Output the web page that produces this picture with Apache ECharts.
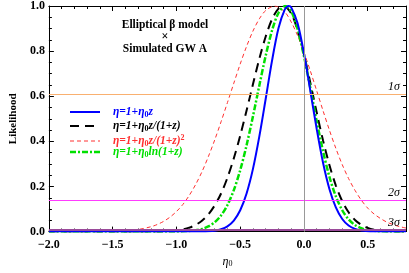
<!DOCTYPE html>
<html>
<head>
<meta charset="utf-8">
<script src="https://cdn.jsdelivr.net/npm/echarts@6/dist/echarts.min.js"></script>
<style>html,body{margin:0;padding:0;background:#fff;}#c{width:409px;height:273px;}</style>
</head>
<body>
<div id="c"></div>
<script>
var blueX = [-2.0, -0.9, -0.8, -0.75, -0.7, -0.65, -0.6, -0.55, -0.5, -0.45, -0.4, -0.35, -0.3, -0.25, -0.2, -0.15, -0.12, -0.1, -0.05, 0, 0.05, 0.1, 0.15, 0.2, 0.25, 0.3, 0.35, 0.4, 0.45, 0.5, 0.55, 0.6, 0.8];
var blueY = [0, 0.0000, 0.0005, 0.0015, 0.0041, 0.0102, 0.0233, 0.0489, 0.0947, 0.169, 0.278, 0.422, 0.589, 0.759, 0.901, 0.985, 1.0, 0.994, 0.923, 0.79, 0.624, 0.454, 0.304, 0.188, 0.107, 0.056, 0.027, 0.012, 0.005, 0.0019, 0.0006, 0.0002, 0];

var blackX = [-2.0, -1.2, -1.1, -1.0, -0.95, -0.9, -0.85, -0.8, -0.75, -0.7, -0.65, -0.6, -0.55, -0.5, -0.45, -0.4, -0.35, -0.3, -0.25, -0.2, -0.16, -0.1, -0.05, 0, 0.05, 0.1, 0.15, 0.2, 0.25, 0.3, 0.35, 0.4, 0.45, 0.5, 0.55, 0.6, 0.65, 0.7, 0.8];
var blackY = [0, 0.0003, 0.0014, 0.0054, 0.0099, 0.0174, 0.0296, 0.0483, 0.0762, 0.116, 0.169, 0.239, 0.325, 0.425, 0.537, 0.653, 0.766, 0.865, 0.942, 0.988, 1.0, 0.967, 0.892, 0.785, 0.659, 0.528, 0.403, 0.294, 0.204, 0.135, 0.0856, 0.0516, 0.0297, 0.0163, 0.0085, 0.0043, 0.002, 0.0009, 0.0002];

var greenX = [-2.0, -1.0, -0.95, -0.9, -0.85, -0.8, -0.75, -0.7, -0.65, -0.6, -0.55, -0.5, -0.45, -0.4, -0.35, -0.3, -0.25, -0.2, -0.145, -0.1, -0.05, 0, 0.05, 0.1, 0.15, 0.2, 0.25, 0.3, 0.35, 0.4, 0.45, 0.5, 0.55, 0.6, 0.7, 0.8];
var greenY = [0, 0.0005, 0.0012, 0.0028, 0.0059, 0.0119, 0.0228, 0.0415, 0.0717, 0.118, 0.184, 0.272, 0.383, 0.511, 0.648, 0.780, 0.892, 0.969, 1.0, 0.976, 0.898, 0.778, 0.636, 0.489, 0.355, 0.242, 0.156, 0.0947, 0.054, 0.029, 0.0148, 0.0071, 0.0032, 0.0013, 0.0002, 0];

var redX = [-2.0, -1.6, -1.5, -1.4, -1.3, -1.2, -1.15, -1.1, -1.05, -1.0, -0.95, -0.9, -0.85, -0.8, -0.75, -0.7, -0.65, -0.6, -0.55, -0.5, -0.45, -0.4, -0.35, -0.3, -0.23, -0.15, -0.1, -0.05, 0, 0.05, 0.1, 0.15, 0.2, 0.25, 0.3, 0.35, 0.4, 0.45, 0.5, 0.55, 0.6, 0.65, 0.7, 0.75, 0.8];
var redY = [0, 0.0005, 0.0014, 0.0037, 0.0094, 0.0215, 0.0316, 0.0455, 0.0643, 0.0889, 0.120, 0.160, 0.208, 0.265, 0.332, 0.406, 0.487, 0.572, 0.658, 0.743, 0.821, 0.889, 0.943, 0.980, 1.0, 0.973, 0.929, 0.869, 0.795, 0.712, 0.624, 0.535, 0.449, 0.369, 0.297, 0.235, 0.183, 0.139, 0.104, 0.078, 0.058, 0.042, 0.031, 0.022, 0.016];

var sigmaLevels = [0.6065, 0.1353, 0.0111];
var sigmaLabels = ['1σ', '2σ', '3σ'];
var xTicks = [-2.0, -1.5, -1.0, -0.5, 0.0, 0.5];
var yTicks = [0.0, 0.2, 0.4, 0.6, 0.8, 1.0];

function pairs(xs, ys) { return xs.map(function (x, i) { return [x, ys[i]]; }); }
function fmt(v) { return v.toFixed(1).replace('-', '\u2212'); }

var serif = 'Liberation Serif, Times New Roman, serif';
var chart = echarts.init(document.getElementById('c'), null, { renderer: 'canvas' });

var tickStyle = { show: true, inside: true, length: 5, lineStyle: { color: '#000', width: 1 } };
var minorStyle = { show: true, splitNumber: 5, length: 3, lineStyle: { color: '#000', width: 1 } };
var minorY = { show: true, splitNumber: 4, length: 3, lineStyle: { color: '#000', width: 1 } };
var axisLine = { show: true, onZero: false, lineStyle: { color: '#000', width: 1 } };
var labelStyle = { fontFamily: serif, fontWeight: 'bold', fontSize: 12, color: '#000' };

var sigmaColors = ['#f9b070', '#ff3cff', '#9a4a9a'];
var sigmaWidths = [1, 1, 2];

var refSeries = sigmaLevels.map(function (v, i) {
  return {
    type: 'line', name: 'sigma' + i, data: [], symbol: 'none',
    markLine: {
      symbol: 'none', silent: true, animation: false,
      lineStyle: { color: sigmaColors[i], width: sigmaWidths[i], type: 'solid' },
      label: { show: true, position: 'insideEndTop', formatter: sigmaLabels[i], fontFamily: serif, fontStyle: 'italic', fontSize: 12, color: '#000', distance: [6, 1] },
      data: [{ yAxis: v }]
    }
  };
});
refSeries.push({
  type: 'line', name: 'zero', data: [], symbol: 'none',
  markLine: {
    symbol: 'none', silent: true, animation: false,
    lineStyle: { color: '#999', width: 1, type: 'solid' }, label: { show: false },
    data: [{ xAxis: 0 }]
  }
});

var option = {
  animation: false,
  grid: { left: 34, right: 1, top: 6, bottom: 36 },
  xAxis: [{
    type: 'value', min: -2.0, max: 0.8, interval: 0.5,
    axisLine: axisLine, axisTick: tickStyle, minorTick: minorStyle,
    splitLine: { show: false },
    axisLabel: Object.assign({ formatter: function (v) { return Math.abs(v - 0.8) < 1e-9 ? '' : fmt(v); }, margin: 7 }, labelStyle),
    name: '{i|η}{s|0}', nameLocation: 'middle', nameGap: 22,
    nameTextStyle: { rich: { i: { fontFamily: serif, fontStyle: 'italic', fontSize: 12, color: '#000' }, s: { fontFamily: serif, fontSize: 8, color: '#000', padding: [5, 0, 0, 0] } } }
  }, {
    type: 'value', min: -2.0, max: 0.8, interval: 0.5, position: 'top',
    axisLine: axisLine, axisTick: tickStyle, minorTick: minorStyle,
    splitLine: { show: false }, axisLabel: { show: false }
  }],
  yAxis: [{
    type: 'value', min: 0, max: 1, interval: 0.2,
    axisLine: axisLine, axisTick: tickStyle, minorTick: minorY,
    splitLine: { show: false },
    axisLabel: Object.assign({ formatter: fmt, margin: 4 }, labelStyle),
    name: 'Likelihood', nameLocation: 'middle', nameGap: 24, nameRotate: 90,
    nameTextStyle: { fontFamily: serif, fontWeight: 'bold', fontSize: 11, color: '#000' }
  }, {
    type: 'value', min: 0, max: 1, interval: 0.2, position: 'right',
    axisLine: axisLine, axisTick: tickStyle, minorTick: minorY,
    splitLine: { show: false }, axisLabel: { show: false }
  }],
  series: refSeries.concat([
    { type: 'line', name: 'red', data: pairs(redX, redY), smooth: 0.3, symbol: 'none', lineStyle: { color: '#ff3030', width: 1, type: [4, 3] } },
    { type: 'line', name: 'black', data: pairs(blackX, blackY), smooth: 0.3, symbol: 'none', lineStyle: { color: '#000', width: 2, type: [9, 6] } },
    { type: 'line', name: 'green', data: pairs(greenX, greenY), smooth: 0.3, symbol: 'none', lineStyle: { color: '#00e000', width: 2.5, type: [6, 2, 2, 2] } },
    { type: 'line', name: 'blue', data: pairs(blueX, blueY), smooth: 0.3, symbol: 'none', lineStyle: { color: '#0000ff', width: 2, type: 'solid' } }
  ]),
  graphic: (function () {
    var items = [];
    var ly = [112, 126, 141, 152];
    var cols = ['#0000ff', '#000000', '#ff3030', '#00e000'];
    var dashes = ['solid', [9, 6], [4, 3], [6, 2, 2, 2]];
    var widths = [2, 2, 1, 2.5];
    var texts = ['{a|η=1+η}{s|0}{a|z}', '{a|η=1+η}{s|0}{a|z/(1+z)}', '{a|η=1+η}{s|0}{a|z/(1+z)}{p|2}', '{a|η=1+η}{s|0}{a|ln(1+z)}'];
    for (var i = 0; i < 4; i++) {
      items.push({ type: 'line', shape: { x1: 70, y1: ly[i], x2: 100, y2: ly[i] }, style: { stroke: cols[i], lineWidth: widths[i], lineDash: dashes[i] === 'solid' ? null : dashes[i] } });
      items.push({
        type: 'text', x: 113, y: ly[i], style: {
          text: texts[i], verticalAlign: 'middle', fill: cols[i],
          rich: {
            a: { fontFamily: serif, fontStyle: 'italic', fontWeight: 'bold', fontSize: 11.5, fill: cols[i] },
            s: { fontFamily: serif, fontWeight: 'bold', fontSize: 8, fill: cols[i], padding: [5, 0, 0, 0] },
            p: { fontFamily: serif, fontWeight: 'bold', fontSize: 8, fill: cols[i], padding: [0, 0, 6, 0] }
          }
        }
      });
    }
    items.push({ type: 'text', x: 165, y: 25, style: { text: 'Elliptical β model', align: 'center', verticalAlign: 'middle', fontFamily: serif, fontWeight: 'bold', fontSize: 11.5, fill: '#000' } });
    items.push({ type: 'text', x: 165, y: 37, style: { text: '×', align: 'center', verticalAlign: 'middle', fontFamily: serif, fontWeight: 'bold', fontSize: 12, fill: '#000' } });
    items.push({ type: 'text', x: 165, y: 49, style: { text: 'Simulated GW A', align: 'center', verticalAlign: 'middle', fontFamily: serif, fontWeight: 'bold', fontSize: 11.5, fill: '#000' } });
    return items;
  })()
};
chart.setOption(option);
</script>
</body>
</html>
